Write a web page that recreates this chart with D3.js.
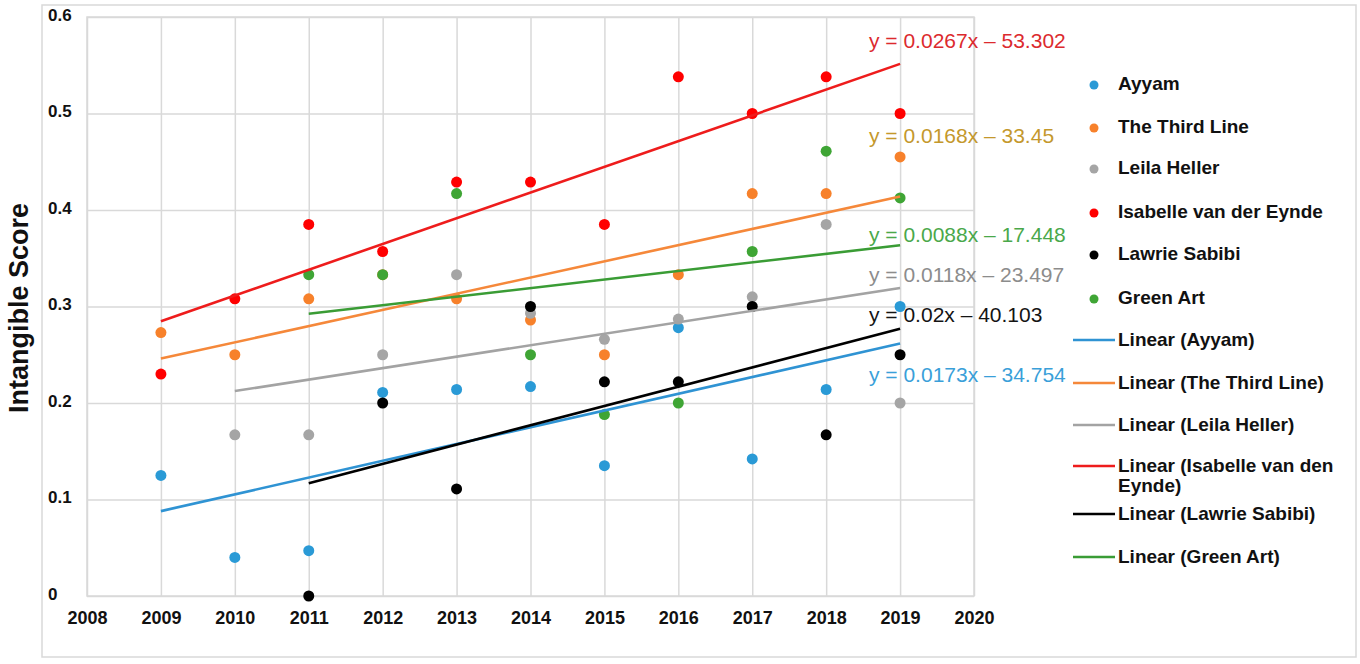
<!DOCTYPE html>
<html>
<head>
<meta charset="utf-8">
<script src="https://cdn.jsdelivr.net/npm/d3@7/dist/d3.min.js"></script>
<style>
  html, body { margin: 0; padding: 0; background: #ffffff; }
  svg { display: block; font-family: "Liberation Sans", Arial, Helvetica, sans-serif; }
</style>
</head>
<body>
<svg id="chart" width="1360" height="664"></svg>
<script>
// ---------------- DATA ----------------
const years = [2009, 2010, 2011, 2012, 2013, 2014, 2015, 2016, 2017, 2018, 2019];
const xTicks = [2008, 2009, 2010, 2011, 2012, 2013, 2014, 2015, 2016, 2017, 2018, 2019, 2020];
const yTicks = [0, 0.1, 0.2, 0.3, 0.4, 0.5, 0.6];

const seriesNames = ["Ayyam", "The Third Line", "Leila Heller", "Isabelle van der Eynde", "Lawrie Sabibi", "Green Art"];
const ayyam     = [0.125, 0.04, 0.047, 0.211, 0.214, 0.217, 0.135, 0.278, 0.142, 0.214, 0.30];
const thirdLine = [0.273, 0.25, 0.308, 0.333, 0.308, 0.286, 0.25, 0.333, 0.417, 0.417, 0.455];
const leila     = [null, 0.167, 0.167, 0.25, 0.333, 0.293, 0.266, 0.287, 0.31, 0.385, 0.20];
const isabelle  = [0.23, 0.308, 0.385, 0.357, 0.429, 0.429, 0.385, 0.538, 0.50, 0.538, 0.50];
const lawrie    = [null, null, 0, 0.20, 0.111, 0.30, 0.222, 0.222, 0.30, 0.167, 0.25];
const greenArt  = [null, null, 0.333, 0.333, 0.417, 0.25, 0.188, 0.20, 0.357, 0.461, 0.4125];

const trendLegendNames = ["Linear (Ayyam)", "Linear (The Third Line)", "Linear (Leila Heller)",
  "Linear (Isabelle van den Eynde)", "Linear (Lawrie Sabibi)", "Linear (Green Art)"];
const equations = ["y = 0.0173x – 34.754", "y = 0.0168x – 33.45", "y = 0.0118x – 23.497",
  "y = 0.0267x – 53.302", "y = 0.02x – 40.103", "y = 0.0088x – 17.448"];
const yTitle = "Intangible Score";

// ---------------- STYLE / LAYOUT ----------------
const pointColors = ["#2a9ad6", "#f7812b", "#a5a5a5", "#ff0000", "#000000", "#3fa535"];
const lineColors  = ["#2f93d3", "#f5883a", "#a3a3a3", "#ee1c1c", "#000000", "#3a9c35"];
const eqColors    = ["#3a9fd9", "#c4982c", "#8c8c8c", "#dc2a2e", "#141414", "#4aa84a"];
const eqBaselines = [382, 143, 282, 48, 322, 242];   // pixel baselines of the equation labels
const seriesData = [ayyam, thirdLine, leila, isabelle, lawrie, greenArt];

const svg = d3.select("#chart");
const W = 1360, H = 664;
const plot = { left: 87, right: 974, top: 17, bottom: 596 };
const FONT = '"Liberation Sans", Arial, Helvetica, sans-serif';

svg.append("rect").attr("width", W).attr("height", H).attr("fill", "#fff");
svg.append("rect").attr("x", 42).attr("y", 5).attr("width", 1314).attr("height", 652)
  .attr("fill", "none").attr("stroke", "#d9d9d9").attr("stroke-width", 1.5);

const x = d3.scaleLinear().domain([2008, 2020]).range([plot.left, plot.right]);
const y = d3.scaleLinear().domain([0, 0.6]).range([plot.bottom, plot.top]);

// X axis with vertical gridlines
const gx = svg.append("g").attr("transform", `translate(0,${plot.bottom})`)
  .call(d3.axisBottom(x).tickValues(xTicks).tickFormat(d3.format("d"))
    .tickSize(-(plot.bottom - plot.top)).tickPadding(0));
gx.select(".domain").remove();
gx.selectAll(".tick line").attr("stroke", "#d9d9d9").attr("stroke-width", 1.5);
gx.selectAll(".tick text").attr("y", 22).attr("dy", "0.35em")
  .attr("fill", "#111").attr("font-family", FONT).attr("font-size", 18).attr("font-weight", "bold");

// Y axis with horizontal gridlines
const gy = svg.append("g").attr("transform", `translate(${plot.left},0)`)
  .call(d3.axisLeft(y).tickValues(yTicks).tickFormat(d => d === 0 ? "0" : d3.format(".1f")(d))
    .tickSize(-(plot.right - plot.left)).tickPadding(0));
gy.select(".domain").remove();
gy.selectAll(".tick line").attr("stroke", "#d9d9d9").attr("stroke-width", 1.5);
gy.selectAll(".tick text").attr("x", 48 - plot.left).attr("text-anchor", "start").attr("dy", "0.2em")
  .attr("fill", "#111").attr("font-family", FONT).attr("font-size", 17).attr("font-weight", "bold");

// plot border
svg.append("rect").attr("x", plot.left).attr("y", plot.top)
  .attr("width", plot.right - plot.left).attr("height", plot.bottom - plot.top)
  .attr("fill", "none").attr("stroke", "#d9d9d9").attr("stroke-width", 1.5);

// Y title
svg.append("text").attr("transform", `translate(28,308) rotate(-90)`)
  .attr("text-anchor", "middle").attr("font-family", FONT).attr("font-size", 27)
  .attr("font-weight", "bold").attr("fill", "#111").text(yTitle);

// Points
seriesData.forEach((vals, i) => {
  const pts = years.map((yr, j) => ({ yr, v: vals[j] })).filter(d => d.v !== null);
  svg.append("g").selectAll("circle").data(pts).join("circle")
    .attr("cx", d => x(d.yr)).attr("cy", d => y(d.v)).attr("r", 5.5)
    .attr("fill", pointColors[i]);
});

// Trend lines (least squares)
function fit(vals) {
  const pts = years.map((yr, j) => [yr, vals[j]]).filter(d => d[1] !== null);
  const mx = d3.mean(pts, d => d[0]), my = d3.mean(pts, d => d[1]);
  const b = d3.sum(pts, d => (d[0] - mx) * (d[1] - my)) / d3.sum(pts, d => (d[0] - mx) ** 2);
  const a = my - b * mx;
  const x0 = d3.min(pts, d => d[0]), x1 = d3.max(pts, d => d[0]);
  return [[x0, a + b * x0], [x1, a + b * x1]];
}
const line = d3.line().x(d => x(d[0])).y(d => y(d[1]));
seriesData.forEach((vals, i) => {
  svg.append("path").attr("d", line(fit(vals))).attr("fill", "none")
    .attr("stroke", lineColors[i]).attr("stroke-width", 2.6);
});

// Equation labels
equations.forEach((eq, i) => {
  svg.append("text").attr("x", 869).attr("y", eqBaselines[i])
    .attr("font-family", FONT).attr("font-size", 21).attr("fill", eqColors[i]).text(eq);
});

// Legend
const lg = svg.append("g");
const dotRows = [83, 126, 167, 211, 253, 297];
seriesNames.forEach((n, i) => {
  lg.append("circle").attr("cx", 1094).attr("cy", dotRows[i] + 2).attr("r", 4.5).attr("fill", pointColors[i]);
  lg.append("text").attr("x", 1118).attr("y", dotRows[i]).attr("dy", "0.35em")
    .attr("font-family", FONT).attr("font-size", 19).attr("font-weight", "bold").attr("fill", "#111").text(n);
});
const lineRows = [339, 382, 424, 465, 513, 556];
trendLegendNames.forEach((n, i) => {
  lg.append("line").attr("x1", 1073).attr("x2", 1115).attr("y1", lineRows[i] + 1).attr("y2", lineRows[i] + 1)
    .attr("stroke", lineColors[i]).attr("stroke-width", 2.6);
  const t = lg.append("text").attr("x", 1118).attr("y", lineRows[i]).attr("dy", "0.35em")
    .attr("font-family", FONT).attr("font-size", 19).attr("font-weight", "bold").attr("fill", "#111");
  if (n.length > 26) {
    const cut = n.lastIndexOf(" ");
    t.append("tspan").attr("x", 1118).text(n.slice(0, cut));
    t.append("tspan").attr("x", 1118).attr("dy", 20).text(n.slice(cut + 1));
  } else {
    t.text(n);
  }
});
</script>
</body>
</html>
